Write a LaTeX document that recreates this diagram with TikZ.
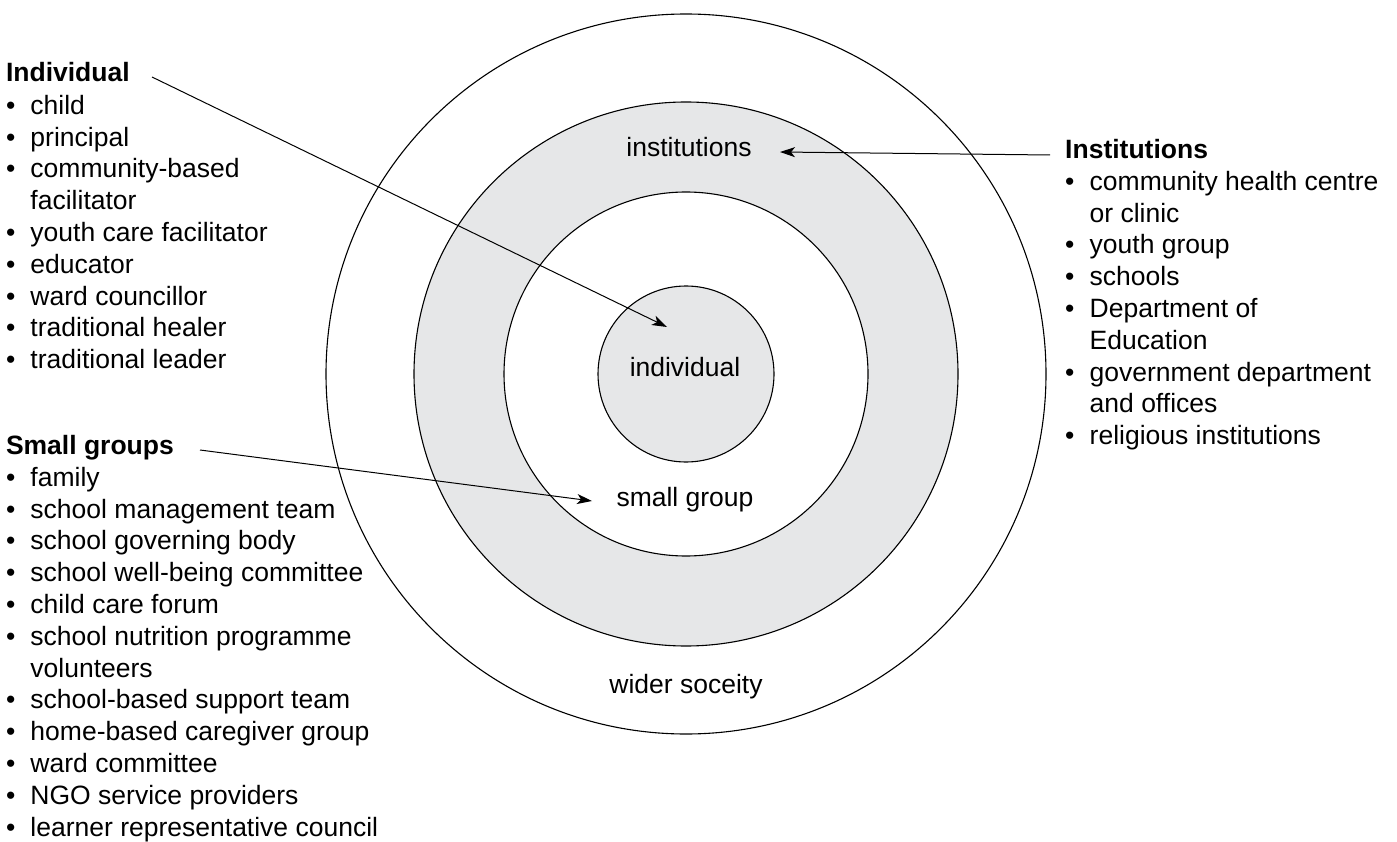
\documentclass[tikz,border=0pt]{standalone}
\usepackage{fontspec}
\setmainfont{Liberation Sans}
\usetikzlibrary{arrows.meta}
\definecolor{ringgray}{HTML}{E6E7E8}
\newcommand{\bitem}[1]{\makebox[24.5pt][l]{•}#1}
\newcommand{\bcont}[1]{\hspace*{24.5pt}#1}
\begin{document}
\begin{tikzpicture}[x=1pt,y=-1pt,
  txt/.style={font=\fontsize{26.5}{31.8}\selectfont, inner sep=0pt},
  listbox/.style={txt, align=left, anchor=north west},
  headbox/.style={txt, font=\fontsize{26.5}{31.8}\selectfont\bfseries, anchor=base west},
  ringlabel/.style={txt, anchor=base},
  ring/.style={draw=black, line width=1.1pt},
  pointer/.style={draw=black, line width=1pt, -{Stealth[length=15pt,width=10pt,inset=4pt]}}
]
\useasboundingbox (0,0) rectangle (1397,842);
\coordinate (c) at (686,374);
% rings
\fill[white] (c) circle[radius=360];
\draw[ring] (c) circle[radius=360];
\draw[ring, fill=ringgray] (c) circle[radius=272];
\draw[ring, fill=white] (c) circle[radius=182];
\draw[ring, fill=ringgray] (c) circle[radius=88];
% ring labels
\node[ringlabel] (linst) at (689,157) {institutions};
\node[ringlabel] (lind) at (685,376) {individual};
\node[ringlabel] (lsg) at (685,506) {small group};
\node[ringlabel] (lwide) at (686,693) {wider soceity};
% left lists
\node[headbox] (hind) at (5.8,82) {Individual};
\node[listbox] (listind) at (5.8,91.74) {\strut\bitem{child}\\
\bitem{principal}\\
\bitem{community-based}\\
\bcont{facilitator}\\
\bitem{youth care facilitator}\\
\bitem{educator}\\
\bitem{ward councillor}\\
\bitem{traditional healer}\\
\bitem{traditional leader}};
\node[headbox] (hsg) at (5.8,454) {Small groups};
\node[listbox] (listsg) at (5.8,463.74) {\strut\bitem{family}\\
\bitem{school management team}\\
\bitem{school governing body}\\
\bitem{school well-being committee}\\
\bitem{child care forum}\\
\bitem{school nutrition programme}\\
\bcont{volunteers}\\
\bitem{school-based support team}\\
\bitem{home-based caregiver group}\\
\bitem{ward committee}\\
\bitem{NGO service providers}\\
\bitem{learner representative council}};
% right list
\node[headbox] (hinst) at (1065,159) {Institutions};
\node[listbox] (listinst) at (1065,167.74) {\strut\bitem{community health centre}\\
\bcont{or clinic}\\
\bitem{youth group}\\
\bitem{schools}\\
\bitem{Department of}\\
\bcont{Education}\\
\bitem{government department}\\
\bcont{and offices}\\
\bitem{religious institutions}};
% connectors
\coordinate (indstart) at (152,77);
\coordinate (indtip) at (667,327);
\coordinate (sgstart) at (200,450);
\coordinate (sgtip) at (592,501);
\coordinate (inststart) at (1050,155);
\coordinate (insttip) at (780,152);
\draw[pointer] (indstart) -- (indtip);
\draw[pointer] (sgstart) -- (sgtip);
\draw[pointer] (inststart) -- (insttip);
\end{tikzpicture}
\end{document}
